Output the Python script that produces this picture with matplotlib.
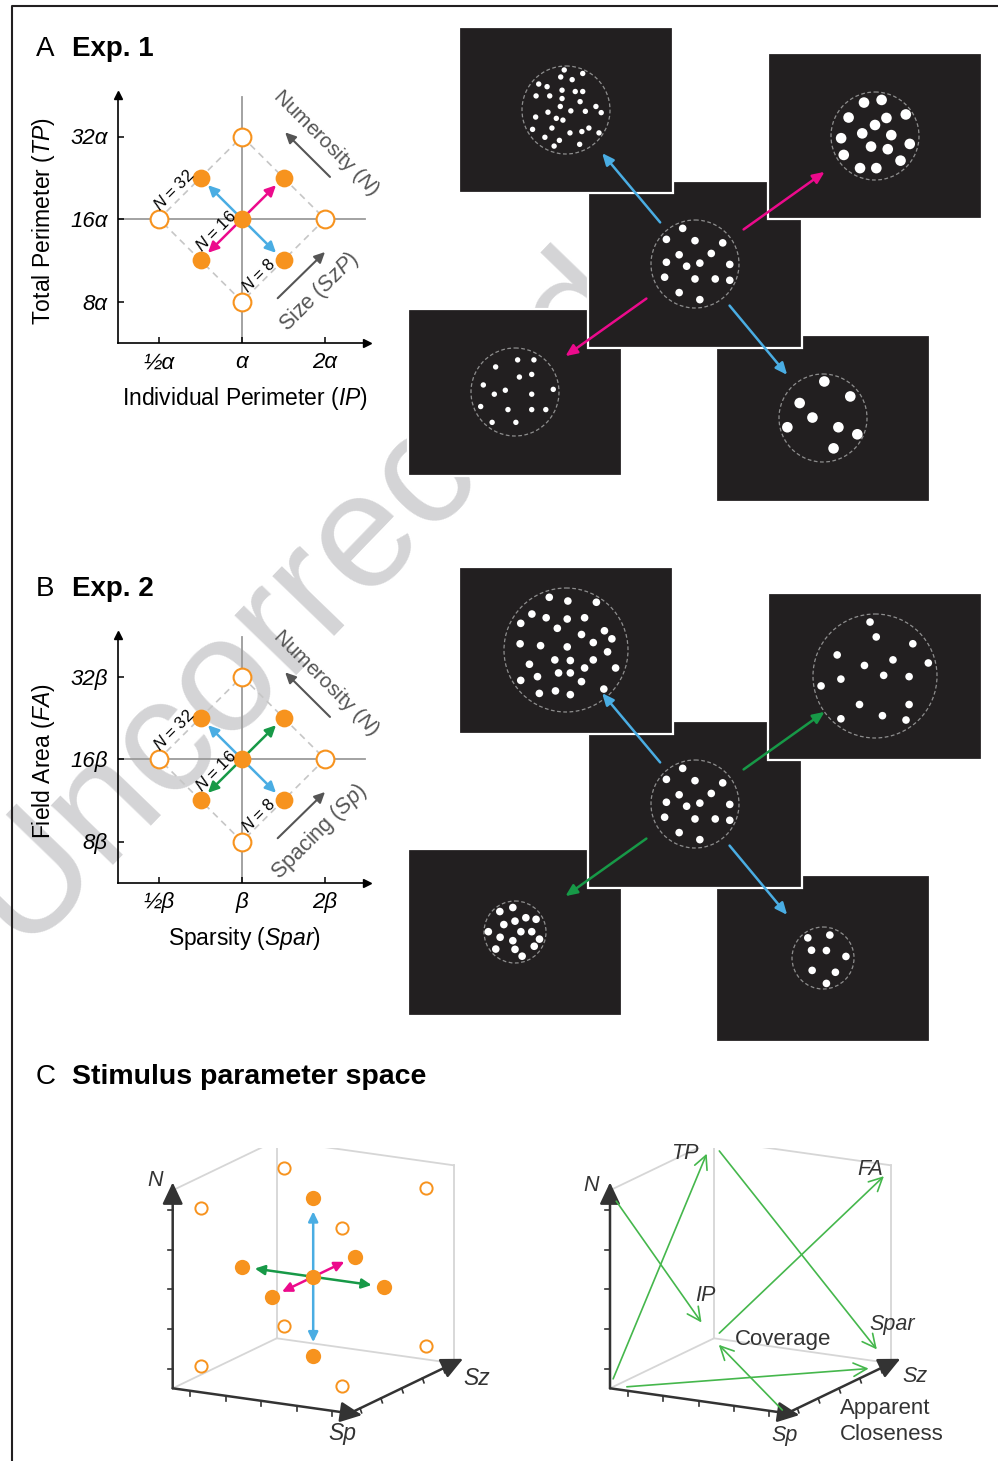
import numpy as np
import matplotlib
matplotlib.use('Agg')
import matplotlib.pyplot as plt
from matplotlib.patches import Rectangle, Circle

plt.rcParams['font.family'] = ['Liberation Sans', 'DejaVu Sans']
plt.rcParams['mathtext.fontset'] = 'custom'
plt.rcParams['mathtext.rm'] = 'Liberation Sans'
plt.rcParams['mathtext.it'] = 'Liberation Sans:italic'
plt.rcParams['mathtext.bf'] = 'Liberation Sans:bold'

W, H = 998, 1461

ORANGE = '#f7931e'
BLUE = '#4aade3'
PINK = '#ec0a8c'
GREEN = '#179947'
LGREEN = '#45b74c'
PANEL = '#221f20'
AXC = '#333333'

# ---- design space (log2 units from the centre stimulus) ----
filled_x = [0, -0.5, 0.5, -0.5, 0.5]
filled_y = [0, 0.5, 0.5, -0.5, -0.5]
open_x = [0, 0, -1, 1]
open_y = [1, -1, 0, 0]
diamond_x = [0, 1, 0, -1, 0]
diamond_y = [1, 0, -1, 0, 1]
tick_pos = [-1, 0, 1]
a_xticks = ['½α', 'α', '2α']
a_yticks = ['8α', '16α', '32α']
b_xticks = ['½β', 'β', '2β']
b_yticks = ['8β', '16β', '32β']
n_labels = ['$N$ = 32', '$N$ = 16', '$N$ = 8']

# ---- dot positions, in units of the field radius (v points down) ----
dots_c = [(-0.28, -0.81), (-0.65, -0.56), (0.00, -0.53), (0.63, -0.48), (-0.36, -0.21),
          (0.37, -0.24), (-0.65, -0.04), (-0.19, 0.05), (0.11, -0.02), (0.79, 0.01),
          (-0.69, 0.30), (0.00, 0.34), (0.46, 0.34), (0.79, 0.37), (-0.36, 0.65), (0.11, 0.81)]
dots_a_tl = [(-0.04, -0.91), (0.38, -0.83), (-0.12, -0.75), (0.14, -0.69), (-0.62, -0.59),
             (-0.43, -0.53), (-0.09, -0.45), (0.21, -0.42), (0.38, -0.42), (-0.68, -0.32),
             (-0.37, -0.32), (-0.09, -0.26), (0.32, -0.19), (-0.13, -0.08), (0.68, -0.08),
             (0.11, 0.02), (0.44, 0.03), (-0.41, 0.05), (0.80, 0.06), (-0.69, 0.16),
             (-0.22, 0.19), (-0.07, 0.23), (-0.76, 0.44), (-0.32, 0.41), (0.09, 0.52),
             (0.36, 0.49), (0.52, 0.41), (0.75, 0.52), (-0.48, 0.62), (-0.15, 0.69),
             (-0.27, 0.82), (0.31, 0.78)]
dots_a_tr = [(-0.25, -0.76), (0.15, -0.82), (-0.60, -0.42), (0.26, -0.41), (0.70, -0.49),
             (0.00, -0.25), (-0.29, -0.06), (0.37, -0.02), (-0.77, 0.05), (0.79, 0.18),
             (-0.09, 0.24), (0.29, 0.30), (-0.71, 0.43), (0.58, 0.56), (-0.34, 0.73), (0.03, 0.73)]
dots_a_bl = [(0.06, -0.73), (0.43, -0.73), (-0.44, -0.57), (0.10, -0.34), (0.38, -0.40),
             (-0.72, -0.16), (-0.22, -0.04), (-0.47, 0.05), (0.38, 0.05), (0.87, -0.06),
             (-0.78, 0.33), (-0.16, 0.40), (0.38, 0.40), (0.70, 0.40), (-0.52, 0.69), (0.02, 0.69)]
dots_a_br = [(0.03, -0.83), (0.62, -0.49), (-0.53, -0.34), (-0.24, -0.01), (-0.81, 0.21),
             (0.35, 0.21), (0.78, 0.37), (0.24, 0.69)]
dots_b_tl = [(-0.27, -0.85), (0.03, -0.79), (0.49, -0.77), (-0.55, -0.58), (-0.32, -0.52),
             (0.02, -0.50), (0.30, -0.52), (-0.73, -0.43), (-0.14, -0.35), (0.62, -0.31),
             (0.25, -0.25), (0.74, -0.18), (-0.74, -0.10), (-0.41, -0.07), (0.02, -0.05),
             (0.44, -0.12), (0.67, 0.03), (-0.18, 0.16), (0.07, 0.17), (0.44, 0.16),
             (-0.59, 0.23), (0.80, 0.29), (0.30, 0.29), (-0.12, 0.37), (0.07, 0.37),
             (-0.46, 0.43), (-0.73, 0.49), (0.25, 0.51), (-0.43, 0.70), (-0.17, 0.66),
             (0.07, 0.72), (0.61, 0.63)]
dots_b_tr = [(-0.08, -0.87), (0.02, -0.63), (0.61, -0.52), (-0.61, -0.34), (0.29, -0.26),
             (0.86, -0.21), (-0.17, -0.17), (0.14, -0.01), (0.55, 0.01), (-0.55, 0.05),
             (-0.87, 0.16), (-0.25, 0.46), (0.55, 0.46), (0.12, 0.64), (-0.55, 0.69), (0.50, 0.71)]
dots_b_bl = [(-0.49, -0.66), (-0.07, -0.79), (-0.36, -0.24), (0.00, -0.35), (0.35, -0.46),
             (0.68, -0.41), (-0.86, -0.01), (-0.48, 0.17), (0.19, -0.01), (0.54, -0.01),
             (0.79, 0.23), (-0.07, 0.28), (-0.62, 0.55), (0.00, 0.56), (0.62, 0.46), (0.23, 0.78)]
dots_b_br = [(-0.49, -0.65), (0.22, -0.74), (-0.37, -0.25), (0.11, -0.24), (0.74, -0.05),
             (-0.35, 0.40), (0.40, 0.46), (0.11, 0.82)]

# field radius / dot radius (px) per stimulus
field_a = {'C': 44, 'TL': 44, 'TR': 44, 'BL': 44, 'BR': 44}
dotr_a = {'C': 3.8, 'TL': 2.7, 'TR': 5.3, 'BL': 2.7, 'BR': 5.3}
field_b = {'C': 44, 'TL': 62, 'TR': 62, 'BL': 31, 'BR': 31}
dotr_b = {'C': 3.8, 'TL': 3.8, 'TR': 3.8, 'BL': 3.8, 'BR': 3.8}

# ---- 3D parameter space (cube units 0..1 along Sp, Sz, N) ----
cube_open = [(0.1, 0.1, 0.1), (0.9, 0.1, 0.1), (0.1, 0.9, 0.1), (0.9, 0.9, 0.1),
             (0.1, 0.1, 0.9), (0.9, 0.1, 0.9), (0.1, 0.9, 0.9), (0.9, 0.9, 0.9)]
cube_filled = [(0.5, 0.5, 0.5), (0.5, 0.5, 0.9), (0.5, 0.5, 0.1), (0.1, 0.5, 0.5),
               (0.9, 0.5, 0.5), (0.5, 0.1, 0.5), (0.5, 0.9, 0.5)]
dim_names = ['TP', 'IP', 'FA', 'Spar', 'Coverage', 'Apparent closeness']
dim_start = [(0, 0.03, 0.04), (0, 0.06, 0.93), (0.03, 1, 0.03), (0.03, 1, 0.95),
             (0.95, 0.04, 0), (0.06, 0.06, 0)]
dim_end = [(0, 0.93, 0.95), (0, 0.88, 0.11), (0.96, 1, 0.94), (0.92, 1, 0.06),
           (0.08, 0.91, 0), (0.95, 0.87, 0)]

fig = plt.figure(figsize=(W / 100, H / 100), dpi=100)


def px_axes(x0, y0, x1, y1, z=1):
    ax = fig.add_axes([x0 / W, 1 - y1 / H, (x1 - x0) / W, (y1 - y0) / H])
    ax.set_zorder(z)
    ax.patch.set_alpha(0)
    return ax


def ftext(x, y, s, **kw):
    fig.text(x / W, 1 - y / H, s, **kw)


# background: watermark + frame
bg = px_axes(0, 0, W, H, z=0)
bg.set_xlim(0, W)
bg.set_ylim(H, 0)
bg.axis('off')
bg.text(300, 598, 'Uncorrected', rotation=46, rotation_mode='anchor', fontsize=118,
        color='#d4d4d6', ha='center', va='center', zorder=0)
bg.plot([12, 12, W], [H, 5.5, 5.5], color=PANEL, lw=1.5, zorder=2, solid_capstyle='butt')


def draw_design(dy, xt, yt, xlab, ylab, diag_color, diag_name):
    cx, cy = 242, 219 + dy
    ax = px_axes(cx - 1.5 * 83, cy - 1.5 * 82.5, cx + 1.5 * 83, cy + 1.5 * 82.5)
    ax.set_xlim(-1.5, 1.5)
    ax.set_ylim(-1.5, 1.5)
    for s in ['top', 'right']:
        ax.spines[s].set_visible(False)
    for s in ['left', 'bottom']:
        ax.spines[s].set_linewidth(1.2)
    ax.plot(1, 0, '>k', ms=6, transform=ax.transAxes, clip_on=False)
    ax.plot(0, 1, '^k', ms=6, transform=ax.transAxes, clip_on=False)
    ax.set_xticks(tick_pos, xt, fontstyle='italic', fontsize=16)
    ax.set_yticks(tick_pos, yt, fontstyle='italic', fontsize=16)
    ax.tick_params(direction='in', length=4, width=1.1, pad=7)

    ax.plot([-1.5, 1.48], [0, 0], color='#9b9b9b', lw=1.3, zorder=1)
    ax.plot([0, 0], [-1.5, 1.48], color='#9b9b9b', lw=1.3, zorder=1)
    ax.plot(diamond_x, diamond_y, color='#c6c6c6', lw=1.2, ls=(0, (4, 3)), zorder=1)

    for fx, fy in zip(filled_x[1:], filled_y[1:]):
        col = BLUE if fx * fy < 0 else diag_color
        ax.annotate('', xy=(0.82 * fx, 0.82 * fy), xytext=(0, 0),
                    arrowprops=dict(arrowstyle='-|>,head_length=0.45,head_width=0.22',
                                    color=col, lw=1.8, shrinkA=0, shrinkB=0,
                                    mutation_scale=14), zorder=3)
    ax.plot(open_x, open_y, 'o', ms=12.8, mfc='white', mec=ORANGE, mew=1.5, zorder=4, clip_on=False)
    ax.plot(filled_x, filled_y, 'o', ms=12.8, color=ORANGE, mec='none', zorder=5)

    for (lx, ly), s in zip([(-0.82, 0.35), (-0.31, -0.15), (0.2, -0.68)], n_labels):
        ax.text(lx, ly, s, fontsize=12, rotation=45, rotation_mode='anchor',
                ha='center', va='center', zorder=6)

    ax.annotate('', xy=(0.52, 1.05), xytext=(1.06, 0.51),
                arrowprops=dict(arrowstyle='-|>,head_length=0.45,head_width=0.22',
                                color='#555555', lw=1.5, shrinkA=0, shrinkB=0, mutation_scale=14))
    ax.annotate('', xy=(1.0, -0.4), xytext=(0.43, -0.96),
                arrowprops=dict(arrowstyle='-|>,head_length=0.45,head_width=0.22',
                                color='#555555', lw=1.5, shrinkA=0, shrinkB=0, mutation_scale=14))
    ax.text(1.01, 0.92, 'Numerosity ($N$)', rotation=-45, rotation_mode='anchor',
            ha='center', va='center', fontsize=15, color='#555555')
    ax.text(0.93, -0.88, diag_name, rotation=45, rotation_mode='anchor',
            ha='center', va='center', fontsize=15.5, color='#555555')

    ftext(44, 221 + dy, ylab, rotation=90, ha='center', va='center', fontsize=16.5)
    ftext(245, 398 + dy, xlab, ha='center', va='center', fontsize=16.5)


panel_off = {'C': (0, 0), 'TL': (-129, -154), 'TR': (180, -128),
             'BL': (-180, 128), 'BR': (128, 154)}
PW, PH = 214, 167


def draw_stimuli(dy, dots, field, dotr, colors):
    cx, cy = 695, 264 + dy
    ax = px_axes(400, 20 + dy, 990, 510 + dy, z=2)
    ax.set_xlim(400 - cx, 990 - cx)
    ax.set_ylim(510 + dy - cy, 20 + dy - cy)
    ax.axis('off')
    for k, key in enumerate(['BL', 'BR', 'C', 'TL', 'TR']):
        ox, oy = panel_off[key]
        z = 2 + 3 * k
        ax.add_patch(Rectangle((ox - PW / 2, oy - PH / 2), PW, PH, fc=PANEL, ec='white',
                               lw=1.6, zorder=z))
        r = field[key]
        ax.add_patch(Circle((ox, oy), r, fill=False, ec='#8e8e8e', lw=0.9,
                            ls=(0, (3, 2)), zorder=z + 1))
        for u, v in dots[key]:
            ax.add_patch(Circle((ox + u * r, oy + v * r), dotr[key], fc='white',
                                ec='none', zorder=z + 2))
    for key in ['TL', 'TR', 'BL', 'BR']:
        ox, oy = panel_off[key]
        ax.annotate('', xy=(0.72 * ox, 0.72 * oy), xytext=(0.27 * ox, 0.27 * oy),
                    arrowprops=dict(arrowstyle='-|>,head_length=0.5,head_width=0.22',
                                    color=colors[key], lw=1.8, shrinkA=0, shrinkB=0,
                                    mutation_scale=14), zorder=40)


# titles
ftext(36, 56, 'A', fontsize=20, va='baseline')
ftext(72, 56, 'Exp. 1', fontsize=20, fontweight='bold', va='baseline')
ftext(36, 596, 'B', fontsize=20, va='baseline')
ftext(72, 596, 'Exp. 2', fontsize=20, fontweight='bold', va='baseline')
ftext(36, 1084, 'C', fontsize=20, va='baseline')
ftext(72, 1084, 'Stimulus parameter space', fontsize=20.5, fontweight='bold', va='baseline')

draw_design(0, a_xticks, a_yticks, 'Individual Perimeter ($IP$)', 'Total Perimeter ($TP$)',
            PINK, 'Size ($SzP$)')
draw_design(540, b_xticks, b_yticks, 'Sparsity ($Spar$)', 'Field Area ($FA$)',
            GREEN, 'Spacing ($Sp$)')

draw_stimuli(0, {'C': dots_c, 'TL': dots_a_tl, 'TR': dots_a_tr, 'BL': dots_a_bl, 'BR': dots_a_br},
             field_a, dotr_a, {'TL': BLUE, 'TR': PINK, 'BL': PINK, 'BR': BLUE})
draw_stimuli(540, {'C': dots_c, 'TL': dots_b_tl, 'TR': dots_b_tr, 'BL': dots_b_bl, 'BR': dots_b_br},
             field_b, dotr_b, {'TL': BLUE, 'TR': GREEN, 'BL': GREEN, 'BR': BLUE})

# ---- panel C cubes ----
SP = np.array([177., -25.])
SZ = np.array([104., 50.])
NV = np.array([0., 198.])


def proj(p):
    p = np.atleast_2d(np.asarray(p, dtype=float))
    return p[:, 0:1] * SP + p[:, 1:2] * SZ + p[:, 2:3] * NV


cube_edges = [((0, 0, 0), (0, 1, 0)), ((0, 1, 0), (1, 1, 0)), ((0, 1, 0), (0, 1, 1)),
              ((1, 1, 0), (1, 1, 1)), ((0, 1, 1), (1, 1, 1)), ((0, 0, 1), (0, 1, 1))]
ticks_c = [0.1, 0.3, 0.5, 0.7, 0.9]


def draw_cube(ox, oy=1388.3):
    ax = px_axes(ox - 70, oy - 240, ox + 330, oy + 60)
    ax.set_xlim(-70, 330)
    ax.set_ylim(-60, 240)
    ax.axis('off')
    for a, b in cube_edges:
        seg = proj([a, b])
        ax.plot(seg[:, 0], seg[:, 1], color='#d6d6d6', lw=1.3, zorder=1)
    for a, b in [((0, 0, 0), (0, 0, 1.04)), ((0, 0, 0), (1.07, 0, 0)), ((1, 0, 0), (1, 1.09, 0))]:
        pa, pb = proj(a)[0], proj(b)[0]
        ax.annotate('', xy=pb, xytext=pa,
                    arrowprops=dict(arrowstyle='-|>,head_length=0.55,head_width=0.26',
                                    color=AXC, lw=1.8, shrinkA=0, shrinkB=0,
                                    mutation_scale=24), zorder=3)
    for t in ticks_c:
        p = proj((0, 0, t))[0]
        ax.plot([p[0], p[0] - 5], [p[1], p[1]], color=AXC, lw=1.2, zorder=3)
        p = proj((t, 0, 0))[0]
        ax.plot([p[0], p[0]], [p[1], p[1] - 5], color=AXC, lw=1.2, zorder=3)
        p = proj((1, t, 0))[0]
        ax.plot([p[0], p[0] + 1.5], [p[1], p[1] - 4.5], color=AXC, lw=1.2, zorder=3)
    return ax


cl = draw_cube(172.7)
po = proj(cube_open)
cl.plot(po[:, 0], po[:, 1], 'o', ms=8.8, mfc='white', mec=ORANGE, mew=1.4, zorder=4)
for a, b, col in [((0.5, 0.5, 0.17), (0.5, 0.5, 0.83), BLUE),
                  ((0.17, 0.5, 0.5), (0.83, 0.5, 0.5), GREEN),
                  ((0.5, 0.2, 0.5), (0.5, 0.8, 0.5), PINK)]:
    cl.annotate('', xy=proj(b)[0], xytext=proj(a)[0],
                arrowprops=dict(arrowstyle='<|-|>,head_length=0.45,head_width=0.22',
                                color=col, lw=1.8, shrinkA=0, shrinkB=0, mutation_scale=13),
                zorder=5)
pf = proj(cube_filled)
cl.plot(pf[:, 0], pf[:, 1], 'o', ms=11, color=ORANGE, mec='none', zorder=6)
cl.text(-17.7, 208, 'N', fontsize=15.5, style='italic', color=AXC, ha='center', va='center')
cl.text(170, -45, 'Sp', fontsize=16.5, style='italic', color=AXC, ha='center', va='center')
cl.text(304, 10, 'Sz', fontsize=16.5, style='italic', color=AXC, ha='center', va='center')

cr = draw_cube(610)
for a, b in zip(dim_start, dim_end):
    cr.annotate('', xy=proj(b)[0], xytext=proj(a)[0],
                arrowprops=dict(arrowstyle='->,head_length=0.6,head_width=0.3',
                                color=LGREEN, lw=1.2, shrinkA=0, shrinkB=0, mutation_scale=16),
                zorder=5)
for s, (x, y), it in [('N', (-19.3, 203), True), ('TP', (75, 235), True), ('FA', (260, 219), True),
                      ('IP', (95, 93), True), ('Spar', (282, 64), True), ('Coverage', (173, 49), False),
                      ('Sz', (305, 12), True), ('Sp', (175, -47), True)]:
    cr.text(x, y, s, fontsize=15.5 if it else 16, style='italic' if it else 'normal',
            color=AXC, ha='center', va='center')
cr.text(230, -33, 'Apparent\nCloseness', fontsize=16, color=AXC, ha='left', va='center',
        multialignment='left', linespacing=1.3)

fig.savefig('out.png', dpi=100)
